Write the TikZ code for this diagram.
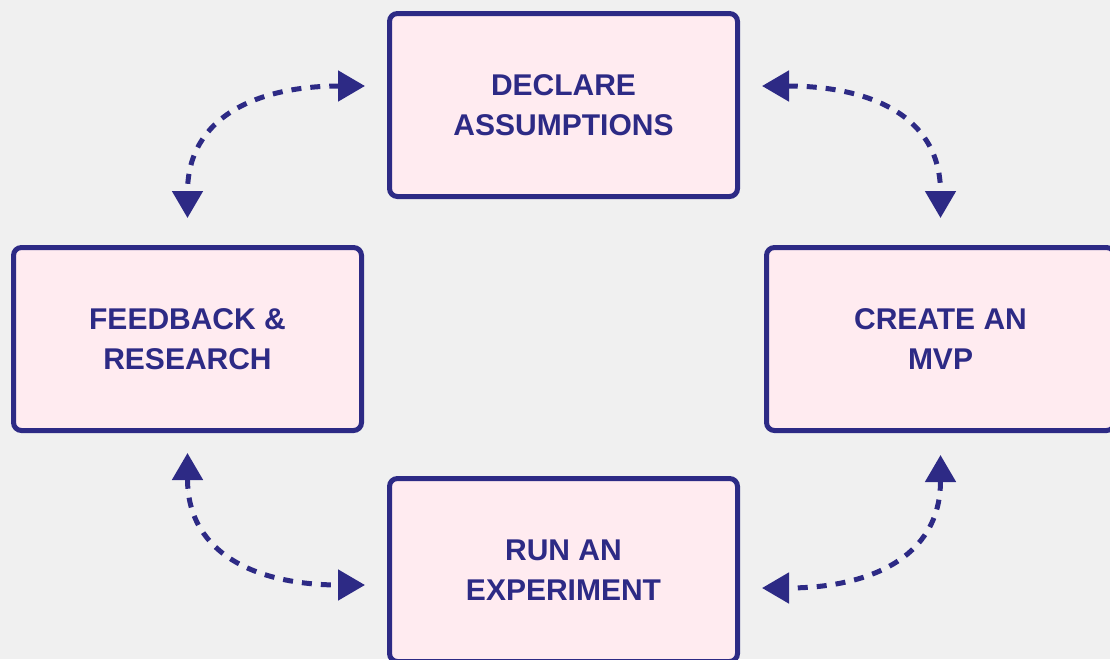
\documentclass[tikz,border=0pt]{standalone}
\usepackage{fontspec}
\setmainfont{Liberation Sans}
\usepackage{xcolor}
\usetikzlibrary{positioning,arrows.meta}
\definecolor{pagebg}{HTML}{F0F0F0}
\definecolor{stagefill}{HTML}{FFEBF0}
\definecolor{ink}{HTML}{2D2A85}

\begin{document}
\begin{tikzpicture}[
  x=1pt, y=1pt,
  stage/.style={draw=ink, fill=stagefill, line width=5pt, rounded corners=8pt,
    minimum width=348pt, minimum height=183pt, inner sep=0pt, align=center,
    text=ink, font=\fontsize{30}{40}\selectfont\bfseries},
  link/.style={draw=ink, line width=5pt, dash pattern=on 10pt off 9pt, looseness=1.2,
    {Triangle[length=27pt,width=30pt] Triangle[length=0.01pt,width=0.01pt,sep=10pt]}-{Triangle[length=0.01pt,width=0.01pt,sep=10pt] Triangle[length=27pt,width=30pt]}}
]
\useasboundingbox (0,0) rectangle (1110,-659);
\clip (0,0) rectangle (1110,-659);
\fill[pagebg] (0,0) rectangle (1110,-659);

\node[stage] (declare) at (563.5,-105) {DECLARE\\ASSUMPTIONS};
\node[stage] (feedback) at (187.5,-339) {FEEDBACK \&\\RESEARCH};
\node[stage] (mvp) at (940.5,-339) {CREATE AN\\MVP};
\node[stage] (experiment) at (563.5,-570) {RUN AN\\EXPERIMENT};

\draw[link] ([xshift=-22pt,yshift=19pt]declare.west) to[out=180,in=90] ([yshift=27pt]feedback.north);
\draw[link] ([xshift=22pt,yshift=19pt]declare.east) to[out=0,in=90] ([yshift=27pt]mvp.north);
\draw[link] ([yshift=-20pt]feedback.south) to[out=-90,in=180] ([xshift=-22pt,yshift=-15pt]experiment.west);
\draw[link] ([yshift=-22pt]mvp.south) to[out=-90,in=0] ([xshift=22pt,yshift=-18pt]experiment.east);
\end{tikzpicture}
\end{document}
